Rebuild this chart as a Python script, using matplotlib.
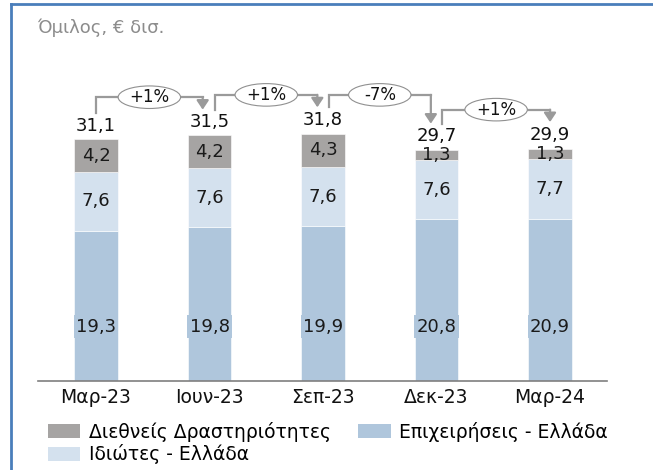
import matplotlib.pyplot as plt
from matplotlib.patches import Ellipse, Patch
from matplotlib.lines import Line2D

plt.rcParams['font.family'] = ['DejaVu Sans']

# data
periods = ['Μαρ-23', 'Ιουν-23', 'Σεπ-23', 'Δεκ-23', 'Μαρ-24']
business = [19.3, 19.8, 19.9, 20.8, 20.9]     # Επιχειρήσεις - Ελλάδα
retail = [7.6, 7.6, 7.6, 7.6, 7.7]            # Ιδιώτες - Ελλάδα
intl = [4.2, 4.2, 4.3, 1.3, 1.3]              # Διεθνείς Δραστηριότητες
totals = [31.1, 31.5, 31.8, 29.7, 29.9]
changes = ['+1%', '+1%', '-7%', '+1%']

c_intl = '#a6a4a3'
c_retail = '#d4e1ee'
c_bus = '#afc6dc'
c_arrow = '#9a9a9a'

fig = plt.figure(figsize=(6.53, 4.70), dpi=100)
ax = fig.add_axes([38 / 653, 89 / 470, (607 - 38) / 653, (381 - 70) / 470])

x = list(range(len(periods)))
w = 0.38
ax.bar(x, business, w, color=c_bus, edgecolor='white', linewidth=0.4)
ax.bar(x, retail, w, bottom=business, color=c_retail, edgecolor='white', linewidth=0.4)
bot2 = [b + r for b, r in zip(business, retail)]
ax.bar(x, intl, w, bottom=bot2, color=c_intl, edgecolor='white', linewidth=0.4)

fs = 13
for i in x:
    ax.text(i, 7.0, f'{business[i]:.1f}'.replace('.', ','), ha='center', va='center',
            fontsize=fs, color='#1a1a1a',
            bbox=dict(boxstyle='square,pad=0.12', fc=c_bus, ec='none'))
    ax.text(i, business[i] + retail[i] / 2, f'{retail[i]:.1f}'.replace('.', ','),
            ha='center', va='center', fontsize=fs, color='#1a1a1a')
    ax.text(i, bot2[i] + intl[i] / 2, f'{intl[i]:.1f}'.replace('.', ','),
            ha='center', va='center', fontsize=fs, color='#1a1a1a')
    ax.text(i, totals[i] + 0.6, f'{totals[i]:.1f}'.replace('.', ','),
            ha='center', va='bottom', fontsize=fs, color='#111111')

# growth brackets
starts = [0.0, 0.05, 0.05, 0.05]
ends = [-0.06, -0.05, -0.05, 0.0]
for k, lab in enumerate(changes):
    xs = k + starts[k]
    xe = k + 1 + ends[k]
    y0 = totals[k] + 3.4
    y1 = totals[k + 1] + 3.4
    lev = max(y0, y1) + 1.6
    ax.plot([xs, xs, xe], [y0, lev, lev], color=c_arrow, lw=1.6, clip_on=False,
            solid_joinstyle='miter', zorder=3)
    ax.annotate('', xy=(xe, y1), xytext=(xe, lev),
                arrowprops=dict(arrowstyle='-|>,head_length=0.45,head_width=0.3',
                                color=c_arrow, lw=1.6, shrinkA=0, shrinkB=0,
                                mutation_scale=12), annotation_clip=False, zorder=3)
    xm = (xs + xe) / 2
    ax.add_patch(Ellipse((xm, lev), 0.55, 2.9, fc='white', ec='#909090', lw=0.8,
                         zorder=4, clip_on=False))
    ax.text(xm, lev, lab, ha='center', va='center', fontsize=12, color='#111111',
            zorder=5)

ax.set_xlim(-0.511, 4.502)
ax.set_ylim(0, 40)
for s in ['top', 'right', 'left']:
    ax.spines[s].set_visible(False)
ax.spines['bottom'].set_color('#7f7f7f')
ax.spines['bottom'].set_linewidth(1.2)
ax.set_yticks([])
ax.set_xticks(x)
ax.set_xticklabels(periods, fontsize=13.5, color='#111111')
ax.tick_params(axis='x', length=0, pad=5)

fig.text(37 / 653, 1 - 28 / 470, 'Όμιλος, € δισ.', fontsize=13, color='#8c8c8c',
         va='center', ha='left')

handles = [Patch(fc=c_intl, ec='none'), Patch(fc=c_retail, ec='none'),
           Patch(fc=c_bus, ec='none')]
labels = ['Διεθνείς Δραστηριότητες', 'Ιδιώτες - Ελλάδα', 'Επιχειρήσεις - Ελλάδα']
fig.legend(handles, labels, ncol=2, loc='upper left',
           bbox_to_anchor=(42 / 653, 1 - 416 / 470), frameon=False, fontsize=13.5,
           handlelength=1.75, handleheight=0.8, handletextpad=0.45,
           columnspacing=1.45, labelspacing=0.15, borderaxespad=0, borderpad=0.3)

# frame lines (left and top)
blue = '#4a7ebb'
fig.add_artist(Line2D([10.5 / 653, 10.5 / 653], [0, 1 - 4 / 470], color=blue, lw=2,
                      transform=fig.transFigure))
fig.add_artist(Line2D([10.5 / 653, 1], [1 - 4 / 470, 1 - 4 / 470], color=blue, lw=2,
                      transform=fig.transFigure))

fig.savefig('out.png', dpi=100)
